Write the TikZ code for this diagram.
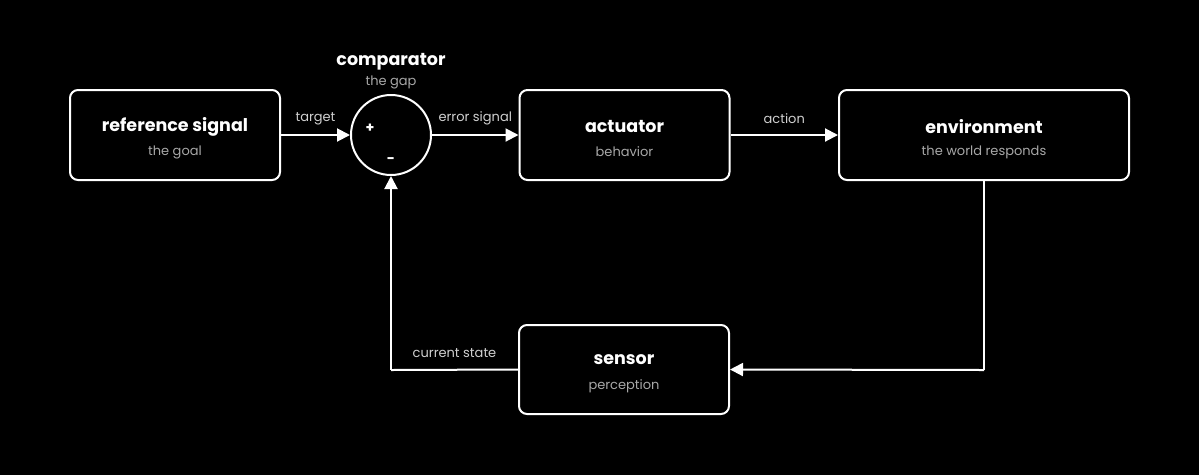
\documentclass[tikz,border=0pt]{standalone}
\usepackage{fontspec}
\setmainfont{Poppins}
\usetikzlibrary{arrows.meta}
\definecolor{subgray}{HTML}{A8A8A8}
\definecolor{lblgray}{HTML}{D0D0D0}
\begin{document}
\begin{tikzpicture}[x=1pt,y=-1pt,
  blockbox/.style={draw=white, line width=2pt, rounded corners=8pt, minimum width=210pt, minimum height=90pt, inner sep=0pt},
  ttl/.style={text=white, font=\fontsize{17.5}{20}\selectfont\bfseries, inner sep=0pt},
  sub/.style={text=subgray, font=\fontsize{13}{15}\selectfont, inner sep=0pt},
  lbl/.style={text=lblgray, font=\fontsize{13}{15}\selectfont, inner sep=0pt},
  conn/.style={draw=white, line width=2pt, -{Triangle[length=13pt,width=13pt]}},
  plain/.style={draw=white, line width=2pt}]
\fill[black] (0,0) rectangle (1199,475);
\useasboundingbox (0,0) rectangle (1199,475);

\node[blockbox] (ref) at (175,135) {};
\node[ttl] (reft) at (175,126.5) {reference signal};
\node[sub] (refs) at (175,152) {the goal};

\node[draw=white, line width=2pt, circle, minimum size=80pt, inner sep=0pt] (cmp) at (391,135) {};
\node[ttl] (cmpt) at (391,61.5) {comparator};
\node[sub] (cmps) at (391,82.5) {the gap};
\node[text=white, font=\fontsize{14}{15}\selectfont\bfseries, inner sep=0pt] (plus) at (370,128) {+};
\node[text=white, font=\fontsize{14}{15}\selectfont\bfseries, inner sep=0pt] (minus) at (391,161) {-};

\node[blockbox] (act) at (624.5,135) {};
\node[ttl] (actt) at (624.5,126.5) {actuator};
\node[sub] (acts) at (624.5,152) {behavior};

\node[blockbox, minimum width=290pt] (env) at (984,135) {};
\node[ttl] (envt) at (984,126.5) {environment};
\node[sub] (envs) at (984,152) {the world responds};

\node[blockbox, minimum height=89pt] (sen) at (624,369.5) {};
\node[ttl] (sent) at (624,360) {sensor};
\node[sub] (sens) at (624,386) {perception};

\coordinate (c1) at (984,370);
\coordinate (c2) at (391,370);

\draw[conn] (ref.east) -- (cmp.west) node[lbl, midway, yshift=16.5pt] (l1) {target};
\draw[conn] (cmp.east) -- (act.west) node[lbl, midway, yshift=16.5pt] (l2) {error signal};
\draw[conn] (act.east) -- (env.west) node[lbl, midway, yshift=16.5pt] (l3) {action};
\draw[plain] (env.south) -- (c1);
\draw[conn] (c1) -- (sen.east);
\draw[plain] (sen.west) -- (c2) node[lbl, midway, yshift=16.5pt] (l4) {current state};
\draw[conn] (c2) -- (cmp.south);
\end{tikzpicture}
\end{document}
